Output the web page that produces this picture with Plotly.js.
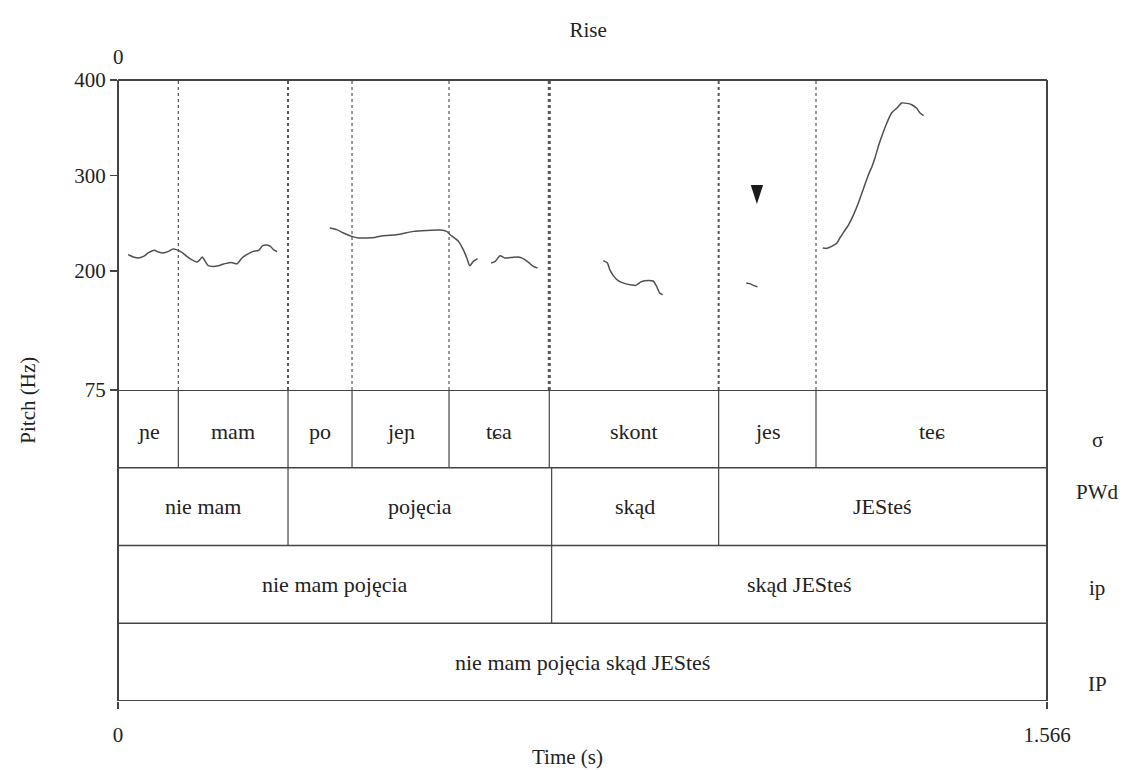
<!DOCTYPE html>
<html>
<head>
<meta charset="utf-8">
<script src="https://cdn.plot.ly/plotly-3.0.1.min.js"></script>
<style>html,body{margin:0;padding:0;background:#fff;}</style>
</head>
<body>
<div id="chart" style="width:1131px;height:770px;"></div>
<script>
// ---- data ----
const timeEnd = 1.566;
const seg1T = [0.017,0.026,0.034,0.043,0.051,0.061,0.068,0.076,0.085,0.093,0.102,0.109,0.116,0.124,0.133,0.138,0.142,0.147,0.152,0.161,0.169,0.178,0.189,0.194,0.201,0.209,0.217,0.228,0.237,0.244,0.251,0.257,0.262,0.268];
const seg1Hz = [217,214.5,213.4,215.1,218.7,221.4,219.7,218.7,220.3,222.9,221.4,218.7,215.1,211.6,209.2,211.6,214.5,209.9,205.3,204.6,205.3,207.1,208.8,208.2,207.4,213.4,216.9,220.3,221.4,226.3,227,225.6,222.1,220];
const seg2T = [0.357,0.369,0.380,0.394,0.405,0.419,0.433,0.447,0.470,0.498,0.520,0.543,0.554,0.560,0.574,0.582,0.588,0.593,0.599,0.606];
const seg2Hz = [244.9,243.1,239.6,236.1,234.4,234.4,235,236.8,237.8,241.3,242.3,242.8,241.3,237.8,230.8,222.1,213.4,205.3,209.9,212.7];
const seg3T = [0.629,0.636,0.644,0.652,0.664,0.675,0.683,0.692,0.700,0.707];
const seg3Hz = [208.2,209.9,215.8,213.4,214,214.5,212.7,208.8,204.6,202.9];
const seg4T = [0.818,0.825,0.829,0.835,0.843,0.855,0.866,0.873,0.880,0.888,0.902,0.908,0.913,0.918];
const seg4Hz = [210.6,208.2,201.2,194.9,189.6,186.5,185.1,184.7,187.8,189.6,189.3,183.6,176.7,174.9];
const seg5T = [1.059,1.065,1.071,1.078];
const seg5Hz = [187.2,186.5,184.7,183.3];
const seg6T = [1.188,1.195,1.203,1.212,1.217,1.223,1.231,1.240,1.248,1.256,1.265,1.271,1.276,1.282,1.289,1.296,1.304,1.313,1.321,1.330,1.338,1.346,1.352,1.358];
const seg6Hz = [223.9,223.5,225.6,229.1,234.4,240.3,247.6,258.8,271.1,285,300.7,309.4,318.2,331.1,343.7,354.9,365.4,370.6,375.9,375.5,374.1,370.6,365.4,362.6];

const arrowT = [1.077];
const arrowHz = [270];

const sylBounds = [0, 0.1017, 0.2866, 0.3945, 0.558, 0.727, 1.0125, 1.1766, 1.566];
const sylLabels = ['ɲe','mam','po','jeɲ','tɕa','skont','jes','teɕ'];
const pwdBounds = [0, 0.2866, 0.731, 1.0125, 1.566];
const pwdLabels = ['nie mam','pojęcia','skąd','JESteś'];
const ipBounds = [0, 0.731, 1.566];
const ipLabels = ['nie mam pojęcia','skąd JESteś'];
const IPBounds = [0, 1.566];
const IPLabels = ['nie mam pojęcia skąd JESteś'];
const tierNames = ['σ','PWd','ip','IP'];

const pitchTicks = [75, 200, 300, 400];
const timeTicks = [0, 1.566];
const timeTickText = ['0', '1.566'];

// ---- styling ----
const FONT = 'Liberation Serif, DejaVu Serif, serif';
const TXT = '#222';
const LINE = '#444';
const CURVE = '#505050';

const segs = [[seg1T,seg1Hz],[seg2T,seg2Hz],[seg3T,seg3Hz],[seg4T,seg4Hz],[seg5T,seg5Hz],[seg6T,seg6Hz]];
const traces = segs.map(s => ({
  x: s[0], y: s[1], type: 'scatter', mode: 'lines', xaxis: 'x', yaxis: 'y',
  line: {color: CURVE, width: 1.5, shape: 'spline', smoothing: 0.6},
  hoverinfo: 'skip', showlegend: false
}));
traces.push({
  x: arrowT, y: arrowHz, type: 'scatter', mode: 'markers', xaxis: 'x', yaxis: 'y',
  marker: {symbol: 'arrow', angle: 180, size: 20, color: '#1a1a1a', line: {width: 0}},
  hoverinfo: 'skip', showlegend: false
});

const shapes = [];
const annotations = [];

for (let k = 0; k <= 4; k++) {
  shapes.push({type:'line', xref:'x domain', x0:0, x1:1, yref:'y2', y0:k, y1:k,
    line:{color: LINE, width: (k===0||k===4) ? 2 : 1.5}});
}
shapes.push({type:'line', xref:'x domain', x0:0, x1:1, yref:'y domain', y0:1, y1:1, line:{color: LINE, width: 2}});
shapes.push({type:'line', xref:'x domain', x0:0, x1:0, yref:'paper', y0:0, y1:1, line:{color: LINE, width: 2}});
shapes.push({type:'line', xref:'x domain', x0:1, x1:1, yref:'paper', y0:0, y1:1, line:{color: LINE, width: 2}});

function addTier(bounds, labels, row, labelY) {
  for (let i = 1; i < bounds.length - 1; i++) {
    shapes.push({type:'line', xref:'x', x0:bounds[i], x1:bounds[i], yref:'y2', y0:row, y1:row+1,
      line:{color: LINE, width: 1.2}});
  }
  for (let i = 0; i < labels.length; i++) {
    annotations.push({x:(bounds[i]+bounds[i+1])/2, xref:'x', y:labelY, yref:'y2',
      text: labels[i], showarrow:false, xanchor:'center', yanchor:'middle',
      font:{family: FONT, size: 22, color: TXT}});
  }
}
addTier(sylBounds, sylLabels, 3, 3.47);
addTier(pwdBounds, pwdLabels, 2, 2.5);
addTier(ipBounds, ipLabels, 1, 1.5);
addTier(IPBounds, IPLabels, 0, 0.5);

for (let i = 1; i < sylBounds.length - 1; i++) {
  const t = sylBounds[i];
  const isIp = ipBounds.slice(1,-1).some(b => Math.abs(b - t) < 0.01);
  const isPwd = pwdBounds.slice(1,-1).some(b => Math.abs(b - t) < 0.01);
  const w = isIp ? 3 : (isPwd ? 2 : 1.2);
  shapes.push({type:'line', xref:'x', x0:t, x1:t, yref:'y', y0:75, y1:400,
    line:{color: '#555', width: w, dash:'dot'}});
}

const tierNameY = [3.36, 2.69, 1.45, 0.22];
tierNames.forEach((n, i) => annotations.push({
  x: 1.054, xref:'paper', y: tierNameY[i], yref:'y2', text: n, showarrow:false,
  xanchor:'center', yanchor:'middle', font:{family: FONT, size: 21, color: TXT}
}));

annotations.push({x: 0, xref:'x', y: 1.037, yref:'paper', text:'0', showarrow:false,
  xanchor:'center', yanchor:'middle', font:{family: FONT, size: 21, color: TXT}});
annotations.push({x: 0.484, xref:'paper', y: -0.09, yref:'paper', text:'Time (s)', showarrow:false,
  xanchor:'center', yanchor:'middle', font:{family: FONT, size: 21, color: TXT}});
annotations.push({x: -0.097, xref:'paper', y: 0.485, yref:'paper', text:'Pitch (Hz)', showarrow:false,
  textangle:-90, xanchor:'center', yanchor:'middle', font:{family: FONT, size: 21, color: TXT}});

const layout = {
  width: 1131, height: 770,
  margin: {l: 118, r: 84, t: 80, b: 69, pad: 0},
  paper_bgcolor: '#fff', plot_bgcolor: '#fff',
  font: {family: FONT, color: TXT},
  title: {text: 'Rise', x: 0.506, xref:'paper', y: 1 - 30/770, yref:'container', yanchor:'middle',
    font: {family: FONT, size: 21, color: TXT}},
  showlegend: false,
  xaxis: {
    anchor: 'y2', range: [0, timeEnd], tickmode:'array', tickvals: timeTicks, ticktext: timeTickText,
    ticks: 'outside', ticklen: 7, tickwidth: 1.5, tickcolor: LINE, ticklabelstandoff: 8,
    showline: false, showgrid: false, zeroline: false,
    tickfont: {family: FONT, size: 21, color: TXT}
  },
  yaxis: {
    domain: [0.5008, 1], range: [75, 400], tickmode:'array', tickvals: pitchTicks,
    ticks: 'outside', ticklen: 7, tickwidth: 1.5, tickcolor: LINE,
    showline: false, showgrid: false, zeroline: false,
    tickfont: {family: FONT, size: 21, color: TXT}
  },
  yaxis2: {
    domain: [0, 0.5008], range: [0, 4], visible: false, showgrid: false, zeroline: false
  },
  shapes: shapes,
  annotations: annotations
};

Plotly.newPlot('chart', traces, layout, {staticPlot: true, displayModeBar: false});
</script>
</body>
</html>
